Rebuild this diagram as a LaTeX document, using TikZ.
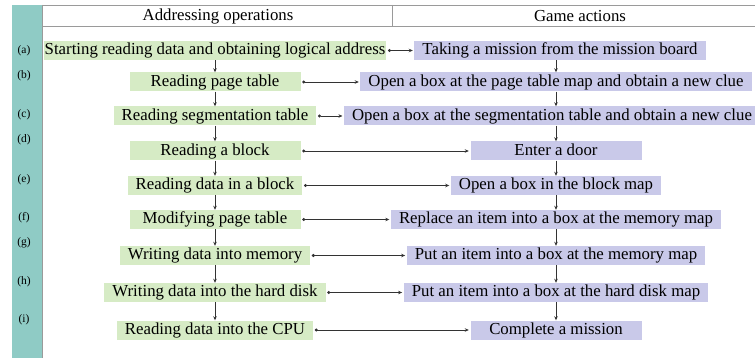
\documentclass[tikz,border=0pt]{standalone}
\usepackage{fontspec}
\setmainfont{Liberation Serif}
\usetikzlibrary{arrows.meta}
\definecolor{tealbar}{HTML}{8FCBC5}
\definecolor{greenbox}{HTML}{D6EBC5}
\definecolor{lavbox}{HTML}{C9C9E9}
\definecolor{linegray}{HTML}{9A9A9A}
\definecolor{conn}{HTML}{333333}
\tikzset{
  every node/.style={font=\fontsize{16.8}{18}\selectfont},
  addrbox/.style={fill=greenbox, inner xsep=8pt, inner ysep=1.75pt, text height=12pt, text depth=3.5pt, minimum width=171pt, anchor=center},
  gamebox/.style={fill=lavbox, inner xsep=8pt, inner ysep=1.75pt, text height=12pt, text depth=3.5pt, minimum width=171pt, anchor=center},
  rowlabel/.style={font=\fontsize{11.5}{12}\selectfont, inner sep=0pt},
  headtext/.style={inner sep=0pt},
  hlink/.style={draw=conn, line width=0.9pt, {Circle[length=3pt]}-{Stealth[length=4pt,width=3.5pt]}, shorten <=1.5pt, shorten >=1.5pt},
  vlink/.style={draw=conn, line width=0.9pt, -{Stealth[length=4pt,width=3.5pt]}},
}
\begin{document}
\begin{tikzpicture}[x=1pt,y=-1pt]
\useasboundingbox (0,0) rectangle (755,358);
\fill[white] (0,0) rectangle (755,358);
% left bar
\fill[tealbar] (12,5) rectangle (42,358);
\draw[linegray, line width=0.8pt] (42,5) -- (42,358);
% header
\draw[linegray, line width=0.9pt] (42,5) -- (755,5);
\draw[linegray, line width=0.9pt] (42,26) -- (755,26);
\draw[linegray, line width=0.9pt] (392,5) -- (392,26);
\node[headtext] (h1) at (218,16) {Addressing operations};
\node[headtext] (h2) at (580,16) {Game actions};
% row labels
\node[rowlabel] (la) at (24,51) {(a)};
\node[rowlabel] (lb) at (24,76) {(b)};
\node[rowlabel] (lc) at (24,115) {(c)};
\node[rowlabel] (ld) at (24,140) {(d)};
\node[rowlabel] (le) at (24,180) {(e)};
\node[rowlabel] (lf) at (24,218) {(f)};
\node[rowlabel] (lg) at (24,243) {(g)};
\node[rowlabel] (lh) at (24,282) {(h)};
\node[rowlabel] (li) at (24,320) {(i)};
% left column
\node[addrbox, inner xsep=1pt] (A1) at (215,50.5) {Starting reading data and obtaining logical address};
\node[addrbox] (A2) at (215,82) {Reading page table};
\node[addrbox] (A3) at (215,116) {Reading segmentation table};
\node[addrbox] (A4) at (215,151) {Reading a block};
\node[addrbox] (A5) at (215,185.5) {Reading data in a block};
\node[addrbox] (A6) at (215,219.5) {Modifying page table};
\node[addrbox] (A7) at (215,255.5) {Writing data into memory};
\node[addrbox] (A8) at (215,292.5) {Writing data into the hard disk};
\node[addrbox] (A9) at (215,330) {Reading data into the CPU};
% right column
\node[gamebox] (G1) at (560,50.5) {Taking a mission from the mission board};
\node[gamebox] (G2) at (556,82) {Open a box at the page table map and obtain a new clue};
\node[gamebox] (G3) at (552,116) {Open a box at the segmentation table and obtain a new clue};
\node[gamebox] (G4) at (556,151) {Enter a door};
\node[gamebox] (G5) at (556,185.5) {Open a box in the block map};
\node[gamebox] (G6) at (556,219.5) {Replace an item into a box at the memory map};
\node[gamebox] (G7) at (556,255.5) {Put an item into a box at the memory map};
\node[gamebox] (G8) at (556,292.5) {Put an item into a box at the hard disk map};
\node[gamebox] (G9) at (556,330) {Complete a mission};
% vertical arrows
\foreach \a/\b in {A1/A2,A2/A3,A3/A4,A4/A5,A5/A6,A6/A7,A7/A8,A8/A9}
  \draw[vlink] (\a.south) -- (\b.north);
\foreach \a/\b in {G1/G2,G2/G3,G3/G4,G4/G5,G5/G6,G6/G7,G7/G8,G8/G9}
  \draw[vlink] (\a.south -| G4.south) -- (\b.north -| G4.north);
% horizontal links
\foreach \i in {1,...,9}
  \draw[hlink] (A\i.east) -- (G\i.west);
\end{tikzpicture}
\end{document}
